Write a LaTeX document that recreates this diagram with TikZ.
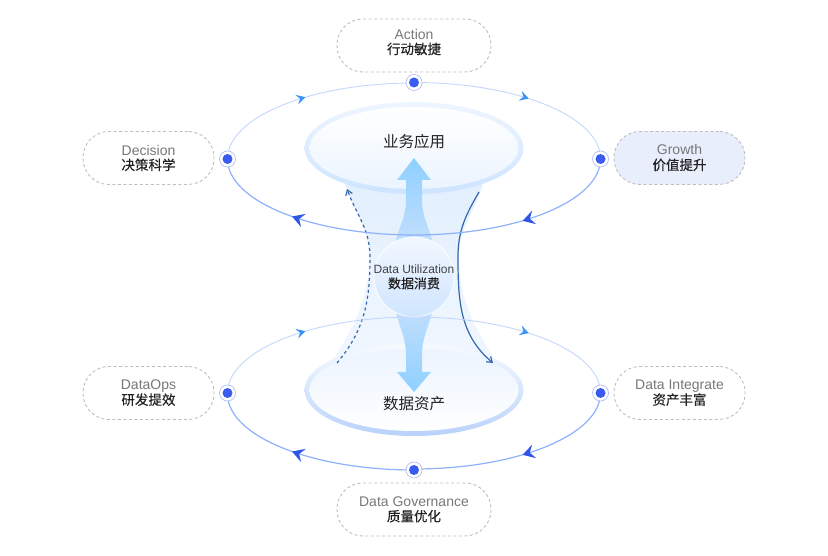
\documentclass[tikz,border=0pt]{standalone}
\usepackage{fontspec}
\usepackage{xcolor}
\usepackage{tikz}
\usetikzlibrary{shapes.geometric,arrows.meta,decorations.markings}
\setmainfont{Liberation Sans}
\newfontfamily\cjk{Noto Sans CJK SC}
\newfontfamily\cjkmed[FakeBold=0.35]{Noto Sans CJK SC}
\definecolor{dotblue}{HTML}{3A5BEF}
\definecolor{dotring}{HTML}{AFC0F8}
\definecolor{ringlight}{HTML}{C3D7FC}
\definecolor{ringdark}{HTML}{8DB1FB}
\definecolor{tiplight}{HTML}{3A94F5}
\definecolor{tipdark}{HTML}{2F55E8}
\definecolor{curveblue}{HTML}{3468AC}
\definecolor{pillgray}{HTML}{BDBDBD}
\definecolor{pillfill}{HTML}{E8EEFC}
\definecolor{labelgray}{HTML}{777777}
\definecolor{textdark}{HTML}{222222}
\definecolor{funneltop}{HTML}{E3EFFE}
\definecolor{funnelmid}{HTML}{C6E0FE}
\definecolor{funnellow}{HTML}{F1F7FF}
\definecolor{arrowhi}{HTML}{8FD0FF}
\definecolor{arrowlo}{HTML}{C6E0FE}
\definecolor{platelight}{HTML}{EEF6FF}
\definecolor{platemid}{HTML}{CDE4FF}
\definecolor{platedeep}{HTML}{B9D2FB}
\definecolor{insidelow}{HTML}{EBF4FF}
\definecolor{balltop}{HTML}{F2F7FF}
\definecolor{balllow}{HTML}{CFE5FF}
\pgfdeclarelayer{dots}
\pgfsetlayers{main,dots}
\tikzset{
    pill/.style={draw=pillgray,dashed,line width=0.9pt,dash pattern=on 3pt off 2.5pt,rounded corners=26pt,
        minimum height=53pt,inner sep=0pt,align=center,font=\fontsize{14}{15}\selectfont,text=labelgray},
    dot/.style={circle,draw=dotring,line width=0.7pt,fill=white,minimum size=16pt,inner sep=0pt,
        path picture={\fill[dotblue] (path picture bounding box.center) circle (5pt);}},
    ringup/.style={draw=ringlight,line width=0.9pt},
    ringlow/.style={draw=ringdark,line width=1.2pt},
    tipsmall/.style={postaction={decorate,decoration={markings,mark=at position #1 with
        {\arrow{Stealth[length=9pt,width=10pt,inset=3.5pt,tiplight]}}}}},
    tipbig/.style={postaction={decorate,decoration={markings,mark=at position #1 with
        {\arrow{Stealth[length=12pt,width=14pt,inset=4.5pt,tipdark]}}}}},
    plate/.style={ellipse,inner sep=0pt,minimum width=219pt,minimum height=92pt},
    plateinner/.style={ellipse,inner sep=0pt,minimum width=209pt,minimum height=82pt},
    bigtext/.style={font=\cjk\fontsize{15.5}{18}\selectfont,text=textdark},
}
\newcommand{\pilltext}[2]{#1\\{\cjkmed\color{textdark}\fontsize{13.5}{15}\selectfont #2}}
\begin{document}
\begin{tikzpicture}[x=1pt,y=1pt]
    \useasboundingbox (0,0) rectangle (828,556);

    \begin{pgfonlayer}{dots}
        \node[dot] (upleft) at (227.5,397) {};
        \node[dot] (uptop) at (414,473.5) {};
        \node[dot] (upright) at (600.5,397) {};
        \node[dot] (lowleft) at (227.5,163) {};
        \node[dot] (lowbottom) at (414,86) {};
        \node[dot] (lowright) at (600.5,163) {};
    \end{pgfonlayer}
    \coordinate (upbottom) at (414,321);

    \shade[top color=funneltop,middle color=funnelmid,bottom color=funnellow]
        (345,373) to [out=-75,in=90] (369,299) to [out=-90,in=60] (330,190)
        -- (498,190) to [out=120,in=-90] (459,299) to [out=90,in=-105] (483,373) -- cycle;

    \node[plate,top color=platelight,bottom color=platemid] (appouter) at (414,408) {};
    \node[plateinner,top color=white,bottom color=insidelow] (appinner) at (414,408) {};
    \node[plate,top color=platelight!50!white,bottom color=platedeep] (assetouter) at (414,166) {};
    \node[plateinner,top color=insidelow,bottom color=white] (assetinner) at (414,166) {};

    \shade[top color=arrowhi,bottom color=arrowlo]
        (414,398) -- (431,376) -- (422,376) -- (422,356) to [out=-90,in=95] (434,305)
        -- (394,305) to [out=85,in=-90] (406,356) -- (406,376) -- (397,376) -- cycle;
    \shade[top color=arrowlo,bottom color=arrowhi]
        (414,164) -- (431,184) -- (422,184) -- (422,201) to [out=90,in=-95] (434,255)
        -- (394,255) to [out=-85,in=90] (406,201) -- (406,184) -- (397,184) -- cycle;

    \node[circle,minimum size=80pt,inner sep=0pt,draw=white,draw opacity=0.7,line width=1.2pt,
        top color=balltop,bottom color=balllow] (usage) at (414,279) {};

    \node[bigtext] (apptext) at (414,414) {业务应用};
    \node[bigtext] (assettext) at (414,152) {数据资产};
    \node[align=center,font=\fontsize{12}{15}\selectfont,text=textdark!85!white] (usagetext) at (414,279)
        {Data Utilization\\{\cjkmed\color{textdark}\fontsize{13}{15}\selectfont 数据消费}};

    \coordinate (dashstart) at (337,193);
    \coordinate (dashmid) at (370,299);
    \coordinate (dashend) at (347,367);
    \coordinate (curvestart) at (479,364);
    \coordinate (curvemid) at (458,299);
    \coordinate (curveend) at (493,193);
    \draw[curveblue,line width=1.2pt,dashed,dash pattern=on 3pt off 3pt,-{Straight Barb[length=5pt,width=7pt]}]
        (dashstart) to [out=50,in=-90] (dashmid) to [out=90,in=-70] (dashend);
    \draw[curveblue,line width=1.2pt,-{Straight Barb[length=5pt,width=7pt]}]
        (curvestart) to [out=-120,in=90] (curvemid) to [out=-90,in=140] (curveend);

    \draw[ringup,tipsmall=0.49] (upleft.center) arc [start angle=180,end angle=90,x radius=186.5,y radius=76];
    \draw[ringup,tipsmall=0.54] (uptop.center) arc [start angle=90,end angle=0,x radius=186.5,y radius=76];
    \draw[ringlow,tipbig=0.49] (upright.center) arc [start angle=0,end angle=-90,x radius=186.5,y radius=76];
    \draw[ringlow,tipbig=0.575] (upbottom) arc [start angle=-90,end angle=-180,x radius=186.5,y radius=76];
    \draw[ringup,tipsmall=0.245,tipsmall=0.77] (lowleft.center) arc [start angle=180,end angle=0,x radius=186.5,y radius=76];
    \draw[ringlow,tipbig=0.49] (lowright.center) arc [start angle=0,end angle=-90,x radius=186.5,y radius=76];
    \draw[ringlow,tipbig=0.575] (lowbottom.center) arc [start angle=-90,end angle=-180,x radius=186.5,y radius=76];

    \node[pill,minimum width=154pt] (action) at (414,510.5) {\pilltext{Action}{行动敏捷}\\[-7pt]{}};
    \node[pill,minimum width=131pt] (decision) at (148.5,398) {\pilltext{Decision}{决策科学}};
    \node[pill,minimum width=131pt,fill=pillfill] (growth) at (679.5,398) {\pilltext{Growth}{价值提升}};
    \node[pill,minimum width=131pt] (dataops) at (148.5,163) {\pilltext{DataOps}{研发提效}};
    \node[pill,minimum width=131pt] (integrate) at (679.5,163) {\pilltext{Data Integrate}{资产丰富}};
    \node[pill,minimum width=154pt] (governance) at (414,46.5) {\pilltext{Data Governance}{质量优化}};
\end{tikzpicture}
\end{document}
